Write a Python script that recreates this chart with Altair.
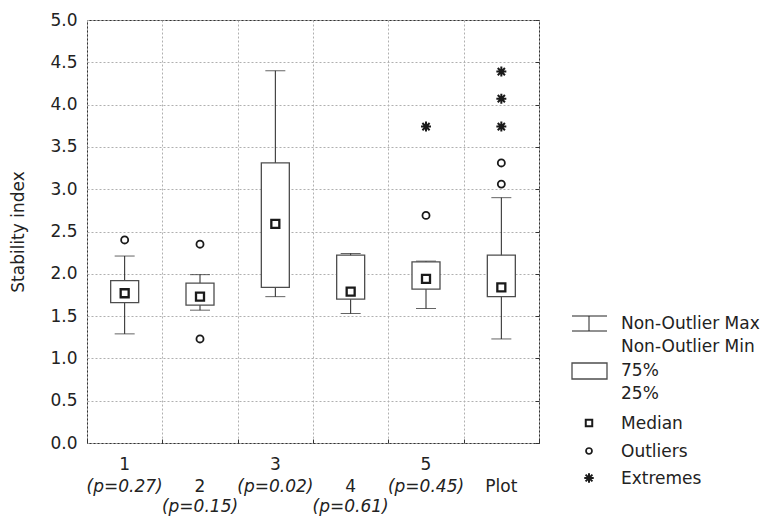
import altair as alt
import pandas as pd

# ---- data ----
categories = ["1", "2", "3", "4", "5", "Plot"]
whisker_low = [1.29, 1.57, 1.73, 1.53, 1.59, 1.23]
q1 = [1.66, 1.63, 1.84, 1.70, 1.82, 1.73]
median = [1.77, 1.73, 2.59, 1.79, 1.94, 1.84]
q3 = [1.92, 1.89, 3.31, 2.22, 2.14, 2.22]
whisker_high = [2.21, 1.99, 4.40, 2.24, 2.15, 2.90]

outlier_cat = ["1", "2", "2", "5", "Plot", "Plot"]
outlier_val = [2.40, 2.35, 1.23, 2.69, 3.06, 3.31]
extreme_cat = ["5", "Plot", "Plot", "Plot"]
extreme_val = [3.74, 3.74, 4.07, 4.39]

label_main = ["1", "2", "3", "4", "5", "Plot"]
label_p = ["(p=0.27)", "(p=0.15)", "(p=0.02)", "(p=0.61)", "(p=0.45)", ""]
label_row = [0, 1, 0, 1, 0, 1]   # line of the category name; p-value goes one line below

y_ticks = [0.0, 0.5, 1.0, 1.5, 2.0, 2.5, 3.0, 3.5, 4.0, 4.5, 5.0]
legend_labels = ["Non-Outlier Max", "Non-Outlier Min", "75%", "25%",
                 "Median", "Outliers", "Extremes"]

# ---- tables ----
boxes = pd.DataFrame({"cat": categories, "lo": whisker_low, "q1": q1,
                      "med": median, "q3": q3, "hi": whisker_high})
outl = pd.DataFrame({"cat": outlier_cat, "v": outlier_val})
extr = pd.DataFrame({"cat": extreme_cat, "v": extreme_val})
labels = pd.DataFrame({"cat": categories, "main": label_main, "p": label_p, "row": label_row})
one = pd.DataFrame({"k": [0]})

W, H = 452, 423
FONT = "DejaVu Sans"
ASTER = "M-1,0L1,0M0,-1L0,1M-0.72,-0.72L0.72,0.72M-0.72,0.72L0.72,-0.72"

xscale = alt.Scale(domain=categories, paddingInner=0, paddingOuter=0)
yscale = alt.Scale(domain=[0, 5], nice=False, zero=False)

X = alt.X("cat:N", sort=categories, scale=xscale,
          axis=alt.Axis(title=None, labels=False, domain=False, ticks=True, tickSize=4,
                        offset=-4, tickBand="extent", grid=True, gridColor="#b0b0b0",
                        gridDash=[2, 2], tickColor="#333"))

yaxis = alt.Axis(title="Stability index", values=y_ticks, format=".1f", grid=True,
                 gridColor="#b0b0b0", gridDash=[2, 2], domain=False, ticks=False,
                 labelPadding=10, labelFontSize=17, labelFont=FONT, labelColor="#222",
                 titleFont=FONT, titleFontSize=17, titleFontWeight="normal",
                 titleColor="#222", titleX=-69, titleBaseline="middle")


def Y(field):
    return alt.Y(field, scale=yscale, axis=None)


whisk = alt.Chart(boxes).mark_rule(color="#222", strokeWidth=1).encode(
    x=X, y=alt.Y("lo:Q", scale=yscale, axis=yaxis), y2="hi:Q")

right_ticks = alt.Chart(boxes).mark_rule(opacity=0).encode(
    x=X, y=alt.Y("lo:Q", scale=yscale,
                 axis=alt.Axis(orient="right", title=None, values=y_ticks, labels=False,
                               domain=False, grid=False, ticks=True, tickSize=4, offset=-4,
                               tickColor="#333")))

caps_lo = alt.Chart(boxes).mark_tick(color="#222", size=20, thickness=1).encode(
    x=X, y=Y("lo:Q"))
caps_hi = alt.Chart(boxes).mark_tick(color="#222", size=20, thickness=1).encode(
    x=X, y=Y("hi:Q"))

box = alt.Chart(boxes).mark_bar(size=28, fill="white", stroke="#4d4d4d",
                                strokeWidth=1.3).encode(
    x=X, y=Y("q1:Q"), y2="q3:Q")

med = alt.Chart(boxes).mark_point(shape="square", size=64, filled=False, fill="white",
                                  fillOpacity=1, stroke="#1a1a1a", strokeWidth=2.3,
                                  opacity=1).encode(
    x=X, y=Y("med:Q"))

out_pts = alt.Chart(outl).mark_point(shape="circle", size=50, filled=False,
                                     stroke="#1a1a1a", strokeWidth=1.8, opacity=1).encode(
    x=X, y=Y("v:Q"))

ext_pts = alt.Chart(extr).mark_point(shape=ASTER, size=100, filled=False,
                                     stroke="#1a1a1a", strokeWidth=2, opacity=1).encode(
    x=X, y=Y("v:Q"))

# ---- category labels (two/three staggered lines under the axis) ----
LINE = [445, 467, 487]   # view-relative y of label lines


def txt(df, field, line, italic):
    return alt.Chart(df).mark_text(font=FONT, fontSize=17, color="#222",
                                   fontStyle="italic" if italic else "normal",
                                   baseline="middle", align="center").encode(
        x=X, y=alt.value(LINE[line]), text=f"{field}:N")


lab0 = labels[labels.row == 0]
lab1 = labels[labels.row == 1]
t1 = txt(lab0, "main", 0, False)
t2 = txt(lab0, "p", 1, True)
t3 = txt(lab1, "main", 1, False)
t4 = txt(lab1[lab1.p != ""], "p", 2, True)

# ---- hand-drawn legend (view-relative pixel positions) ----
LX0, LX1, LXC, LTX = 485, 520, 502, 534


def rule(x, x2, y, y2):
    return alt.Chart(one).mark_rule(color="#222", strokeWidth=1).encode(
        x=alt.value(x), x2=alt.value(x2), y=alt.value(y), y2=alt.value(y2))


def ltext(s, y):
    return alt.Chart(one).mark_text(font=FONT, fontSize=17, color="#222", align="left",
                                    baseline="middle").encode(
        x=alt.value(LTX), y=alt.value(y), text=alt.value(s))


leg = [
    rule(LX0, LX1, 296, 296), rule(LX0, LX1, 311, 311), rule(LXC, LXC, 296, 311),
    ltext(legend_labels[0], 304), ltext(legend_labels[1], 327),
    alt.Chart(one).mark_rect(fill="white", stroke="#4d4d4d", strokeWidth=1.3).encode(
        x=alt.value(LX0), x2=alt.value(LX1), y=alt.value(343), y2=alt.value(359)),
    ltext(legend_labels[2], 351), ltext(legend_labels[3], 374),
    alt.Chart(one).mark_point(shape="square", size=42, filled=False, stroke="#1a1a1a",
                              strokeWidth=2, opacity=1).encode(
        x=alt.value(LXC), y=alt.value(403)),
    ltext(legend_labels[4], 404),
    alt.Chart(one).mark_point(shape="circle", size=36, filled=False, stroke="#1a1a1a",
                              strokeWidth=1.7, opacity=1).encode(
        x=alt.value(LXC), y=alt.value(431)),
    ltext(legend_labels[5], 432),
    alt.Chart(one).mark_point(shape=ASTER, size=90, filled=False, stroke="#1a1a1a",
                              strokeWidth=2, opacity=1).encode(
        x=alt.value(LXC), y=alt.value(458)),
    ltext(legend_labels[6], 459),
]

chart = alt.layer(
    whisk, right_ticks, caps_lo, caps_hi, box, med, out_pts, ext_pts,
    t1, t2, t3, t4, *leg
).resolve_axis(y="independent").properties(
    width=W, height=H,
    autosize=alt.AutoSizeParams(type="none"),
    padding={"left": 79, "top": 12, "right": 226, "bottom": 74},
    background="white",
).configure_view(stroke="#333", strokeWidth=1)

chart.save("out.html", embed_options={"renderer": "svg", "actions": False})
